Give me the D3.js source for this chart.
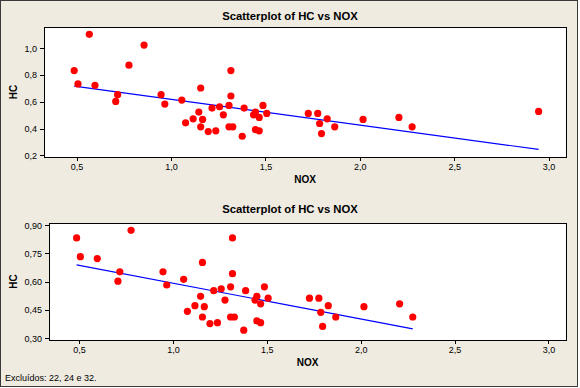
<!DOCTYPE html>
<html>
<head>
<meta charset="utf-8">
<script src="https://cdn.jsdelivr.net/npm/d3@7"></script>
<style>
  body { margin: 0; background: #fff; }
  svg { display: block; }
  .axis text { font-family: "Liberation Sans", Arial, sans-serif; font-size: 9px; fill: #000; }
  .axis line { stroke: #000; shape-rendering: crispEdges; }
  .title { font-family: "Liberation Sans", Arial, sans-serif; font-size: 11.3px; font-weight: bold; }
  .axis-title { font-family: "Liberation Sans", Arial, sans-serif; font-size: 10px; font-weight: bold; }
  .note { font-family: "Liberation Sans", Arial, sans-serif; font-size: 9px; }
</style>
</head>
<body>
<div id="chart"></div>
<script>
const nox = [0.49, 0.57, 0.51, 0.60, 0.86, 0.78, 0.71, 0.72, 0.95, 0.97,
             1.06, 1.08, 1.16, 1.15, 1.12, 1.17, 1.16, 1.20, 1.24, 1.22,
             1.26, 1.28, 1.32, 1.32, 1.31, 1.31, 1.33, 1.38, 1.39, 1.44,
             1.45, 1.47, 1.45, 1.47, 1.49, 1.51, 1.73, 1.78, 1.79, 1.80,
             1.83, 1.87, 2.02, 2.21, 2.28, 2.95];
const hc  = [0.83, 1.10, 0.73, 0.72, 1.02, 0.87, 0.60, 0.65, 0.65, 0.58,
             0.61, 0.44, 0.70, 0.52, 0.47, 0.465, 0.41, 0.375, 0.38, 0.55,
             0.56, 0.50, 0.83, 0.64, 0.57, 0.41, 0.41, 0.34, 0.55, 0.50,
             0.52, 0.48, 0.39, 0.38, 0.57, 0.51, 0.51, 0.51, 0.435, 0.36,
             0.47, 0.41, 0.465, 0.48, 0.41, 0.525];
// points left out of the second plot
const excluded = [2, 5, 46];

const xTicks = [0.5, 1.0, 1.5, 2.0, 2.5, 3.0];
const yTicksAll = [0.2, 0.4, 0.6, 0.8, 1.0];
const yTicksExcl = [0.30, 0.45, 0.60, 0.75, 0.90];

const W = 580, H = 388;

const svg = d3.select("#chart").append("svg")
    .attr("width", W)
    .attr("height", H);

svg.append("rect")
    .attr("x", 0.5).attr("y", 0.5)
    .attr("width", 577).attr("height", 386)
    .attr("fill", "#efebe1")
    .attr("stroke", "#3a3a3a");

const comma = f => (d => d3.format(f)(d).replace(".", ","));

function fit(pts) {
    let n = pts.length;
    let mx = d3.mean(pts, d => d.x), my = d3.mean(pts, d => d.y);
    let sxy = d3.sum(pts, d => (d.x - mx) * (d.y - my));
    let sxx = d3.sum(pts, d => (d.x - mx) * (d.x - mx));
    let b = sxy / sxx;
    return {a: my - b * mx, b: b};
}

function drawPlot(cfg) {
    let g = svg.append("g");

    let x = d3.scaleLinear().domain(cfg.xDomain).range([cfg.left, cfg.right]);
    let y = d3.scaleLinear().domain(cfg.yDomain).range([cfg.bottom, cfg.top]);

    g.append("rect")
        .attr("x", cfg.left + 0.5).attr("y", cfg.top + 0.5)
        .attr("width", cfg.right - cfg.left).attr("height", cfg.bottom - cfg.top)
        .attr("fill", "#fff")
        .attr("stroke", "#000")
        .attr("shape-rendering", "crispEdges");

    let xAxis = g.append("g")
        .attr("class", "axis")
        .attr("transform", `translate(0.5, ${cfg.bottom + 1})`)
        .call(d3.axisBottom(x).tickValues(xTicks).tickFormat(comma(".1f"))
            .tickSize(3).tickSizeOuter(0).tickPadding(3));
    xAxis.select(".domain").remove();

    let yAxis = g.append("g")
        .attr("class", "axis")
        .attr("transform", `translate(${cfg.left}, 0.5)`)
        .call(d3.axisLeft(y).tickValues(cfg.yTicks).tickFormat(comma(cfg.yFmt))
            .tickSize(4).tickSizeOuter(0).tickPadding(3));
    yAxis.select(".domain").remove();

    // regression line over the data range
    let f = fit(cfg.pts);
    let ext = d3.extent(cfg.pts, d => d.x);
    g.append("line")
        .attr("x1", x(ext[0])).attr("y1", y(f.a + f.b * ext[0]))
        .attr("x2", x(ext[1])).attr("y2", y(f.a + f.b * ext[1]))
        .attr("stroke", "#0000ff")
        .attr("stroke-width", 1.2);

    g.selectAll("circle").data(cfg.pts)
        .enter()
        .append("circle")
        .attr("cx", d => x(d.x))
        .attr("cy", d => y(d.y))
        .attr("r", 3.6)
        .attr("fill", "#ff0000");

    g.append("text")
        .attr("class", "title")
        .attr("x", 290).attr("y", cfg.titleY)
        .attr("text-anchor", "middle")
        .text("Scatterplot of HC vs NOX");

    g.append("text")
        .attr("class", "axis-title")
        .attr("x", (cfg.left + cfg.right) / 2).attr("y", cfg.bottom + 26)
        .attr("text-anchor", "middle")
        .text("NOX");

    g.append("text")
        .attr("class", "axis-title")
        .attr("transform", `translate(17, ${(cfg.top + cfg.bottom) / 2}) rotate(-90)`)
        .attr("text-anchor", "middle")
        .text("HC");
}

let all = nox.map((d, i) => ({x: d, y: hc[i]}));
let kept = all.filter((d, i) => !excluded.includes(i + 1));

drawPlot({
    pts: all, left: 44, right: 566, top: 27, bottom: 157,
    xDomain: [0.33, 3.095], yDomain: [0.185, 1.155],
    yTicks: yTicksAll, yFmt: ".1f", titleY: 20
});

drawPlot({
    pts: kept, left: 49, right: 566, top: 223, bottom: 340,
    xDomain: [0.343, 3.096], yDomain: [0.288, 0.909],
    yTicks: yTicksExcl, yFmt: ".2f", titleY: 213
});

svg.append("text")
    .attr("class", "note")
    .attr("x", 5).attr("y", 381)
    .text("Excluídos: 22, 24 e 32.");
</script>
</body>
</html>
